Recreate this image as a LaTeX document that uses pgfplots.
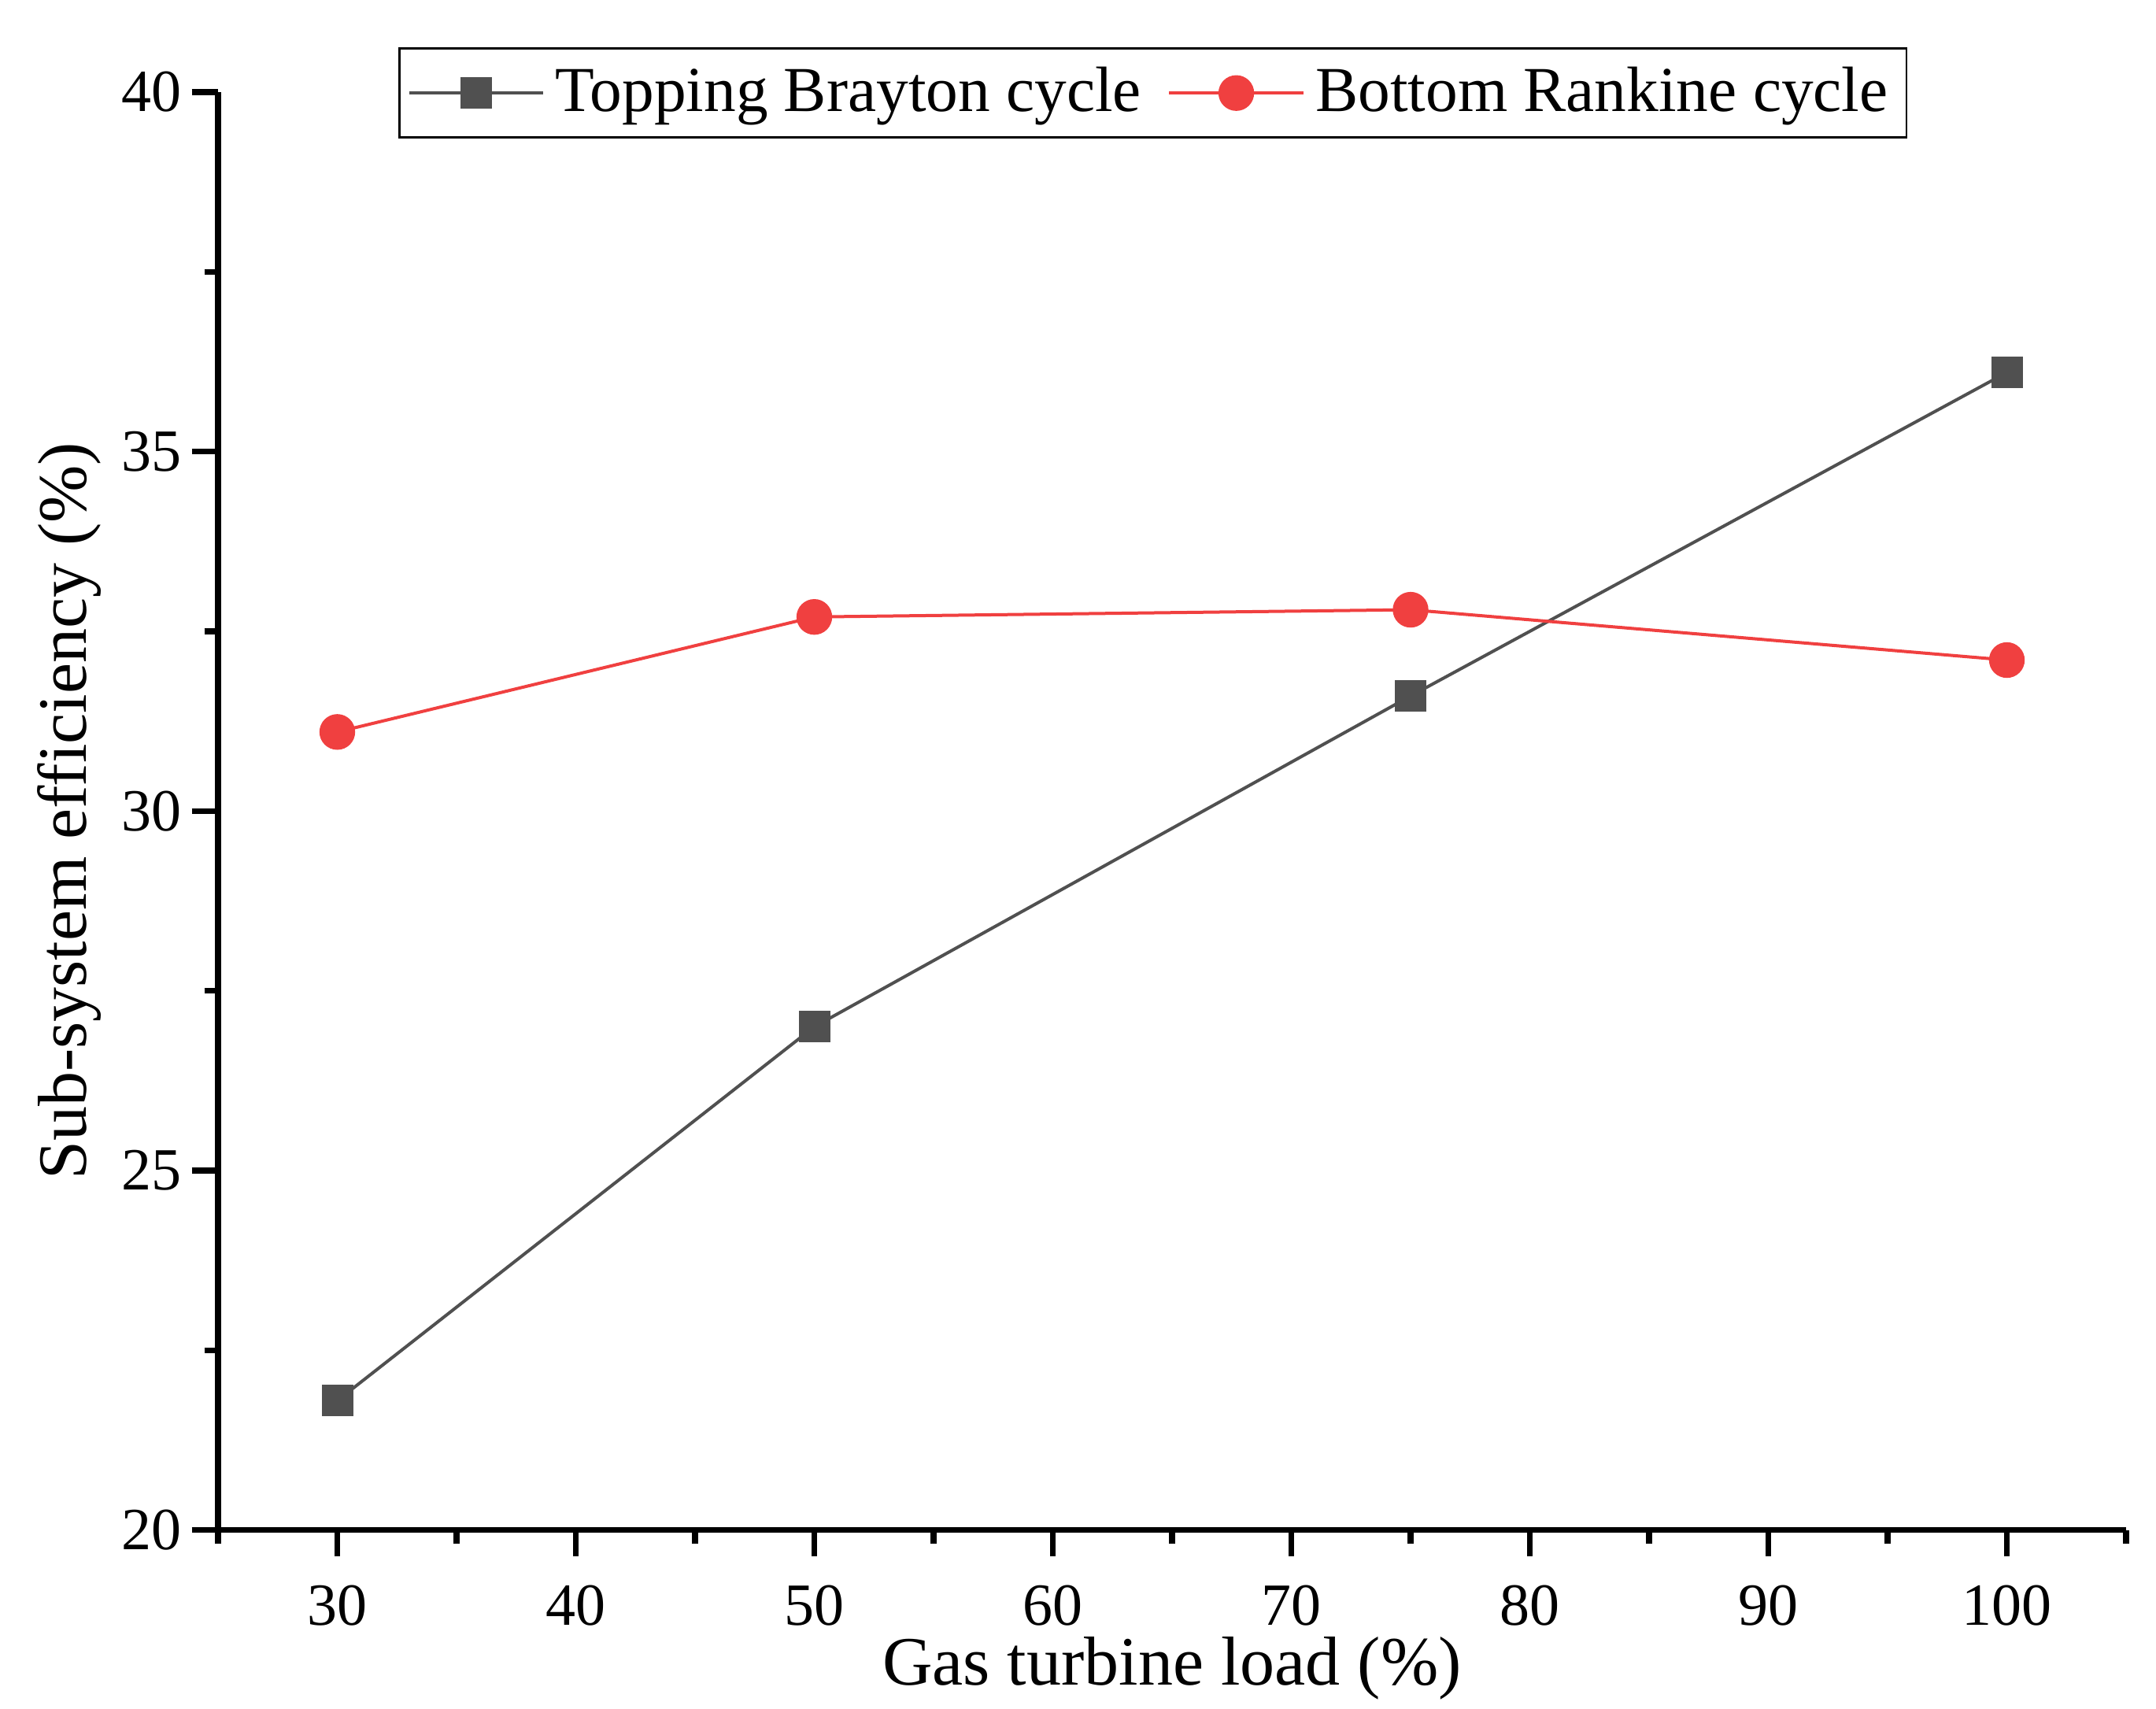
\documentclass[border=0pt]{standalone}
\usepackage{pgfplots}
\pgfplotsset{compat=1.18}
\usetikzlibrary{calc}
\usepackage{fontspec}
\setmainfont{Liberation Serif}
\definecolor{brayton}{HTML}{505050}
\definecolor{rankine}{HTML}{F04040}

\begin{document}
\begin{tikzpicture}
\begin{axis}[
    scale only axis,
    width=363.6pt,
    height=274pt,
    xmin=25, xmax=105,
    ymin=20, ymax=40,
    axis x line=bottom,
    axis y line=left,
    axis line style={-, line width=1.1pt},
    tick align=outside,
    major tick length=5pt,
    minor tick length=2.6pt,
    tick style={line width=1.1pt, black},
    xtick={30,40,...,100},
    ytick={20,25,...,40},
    minor xtick={25,35,...,105},
    minor ytick={22.5,27.5,32.5,37.5},
    /pgf/number format/assume math mode=true,
    ticklabel style={font=\fontsize{11.4}{12}\selectfont},
    yticklabel style={xshift=1.5pt},
    xticklabel style={yshift=-2pt},
    xlabel={Gas turbine load (\%)},
    ylabel={Sub-system efficiency (\%)},
    label style={font=\fontsize{13.2}{15}\selectfont},
    xlabel style={at={(axis description cs:0.5,-0.096)}, anchor=center},
    ylabel style={at={(axis description cs:-0.078,0.5)}, anchor=center},
    legend columns=2,
    legend style={
        at={(axis description cs:0.49,1.031)}, anchor=north,
        draw=black, line width=0.4pt,
        font=\fontsize{12.2}{13}\selectfont,
        inner xsep=1.5pt, inner ysep=1.5pt,
        /tikz/every even column/.append style={column sep=3pt},
    },
    legend image code/.code={
        \draw[mark repeat=2, mark phase=2] plot coordinates {(0cm,0cm) (0.45cm,0cm) (0.9cm,0cm)};
    },
]
\addplot[brayton, line width=0.6pt, mark=square*, mark size=2.7pt, mark options={fill=brayton, draw=brayton}]
    coordinates {(30,21.8) (50,27.0) (75,31.6) (100,36.1)};
\addlegendentry{Topping Brayton cycle}
\addplot[rankine, line width=0.6pt, mark=*, mark size=3.1pt, mark options={fill=rankine, draw=rankine}]
    coordinates {(30,31.1) (50,32.7) (75,32.8) (100,32.1)};
\addlegendentry{Bottom Rankine cycle}
\end{axis}
% page margins as in the reference
\pgfresetboundingbox
\path ($(current axis.south west)+(-41.55pt,-34.05pt)$) rectangle ($(current axis.north east)+(5.7pt,17.55pt)$);
\end{tikzpicture}
\end{document}
